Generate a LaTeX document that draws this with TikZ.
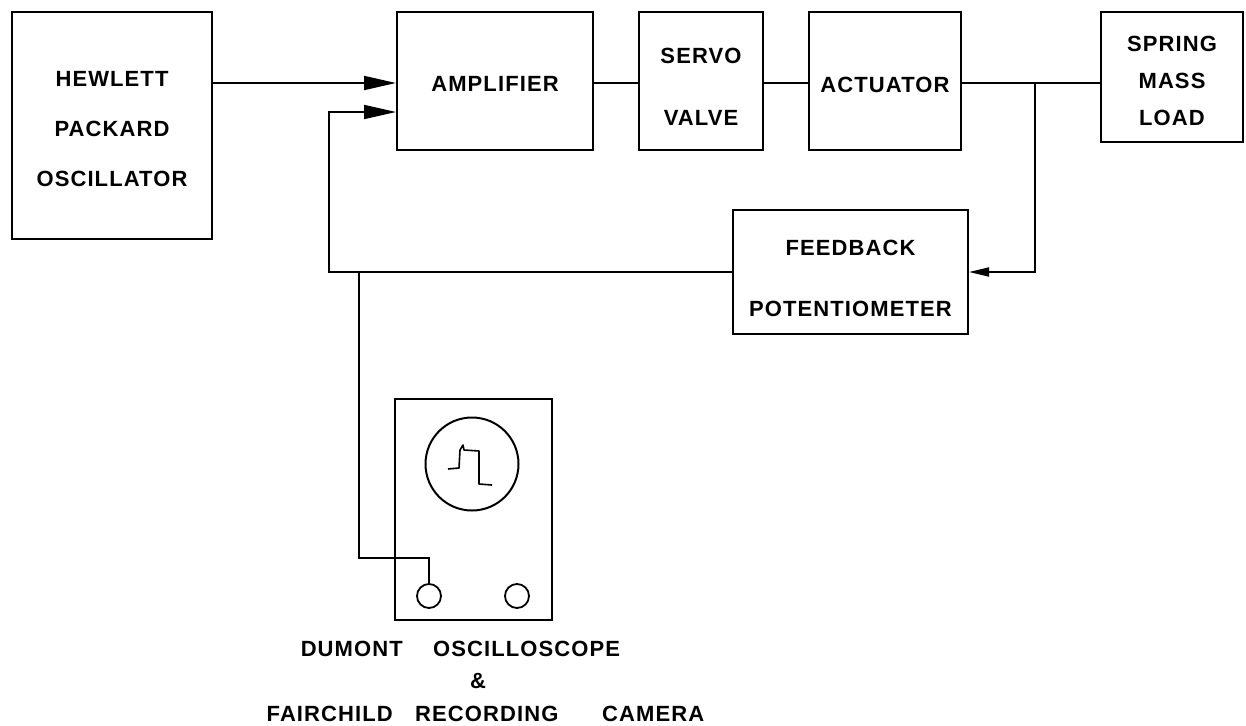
\documentclass[tikz,border=0pt]{standalone}
\usepackage{fontspec}
\newfontfamily\labfam[LetterSpace=5]{Liberation Sans}
\newcommand\labfont[1]{\labfam\bfseries\fontsize{22}{#1}\selectfont}
\usetikzlibrary{arrows.meta}
\begin{document}
\begin{tikzpicture}[x=1pt,y=-1pt,
  box/.style={draw, line width=2pt, inner sep=0pt, align=center, font=\labfont{50}},
  wire/.style={line width=1.8pt},
  bigarr/.style={wire, -{Triangle[length=32pt,width=14pt]}},
  smallarr/.style={wire, -{Triangle[length=20pt,width=9pt]}},
  knob/.style={circle, draw, line width=1.8pt, minimum size=24pt, inner sep=0pt},
  lbl/.style={font=\labfont{26}, inner sep=0pt}]
\useasboundingbox (0,0) rectangle (1246,725);

% main blocks
\node[box, minimum width=200pt, minimum height=227pt, text height=121.8pt] (hp) at (112,125.5) {HEWLETT\\PACKARD\\OSCILLATOR};
\node[box, minimum width=196pt, minimum height=138pt, text height=21.8pt] (amp) at (495,81) {AMPLIFIER};
\node[box, minimum width=124pt, minimum height=138pt, text height=89.8pt, font=\labfont{62}] (servo) at (701,81) {SERVO\\VALVE};
\node[box, minimum width=152pt, minimum height=138pt, text height=22.8pt] (act) at (885,81) {ACTUATOR};
\node[box, minimum width=142pt, minimum height=130pt, text height=97.8pt, font=\labfont{37}] (spring) at (1172,77) {SPRING\\MASS\\LOAD};
\node[box, minimum width=235pt, minimum height=124pt, text height=88.8pt, font=\labfont{61}] (fb) at (850.5,272) {FEEDBACK\\POTENTIOMETER};

% oscilloscope
\node[draw, line width=2pt, minimum width=157pt, minimum height=221pt, inner sep=0pt] (scope) at (473.5,509.5) {};
\node[circle, draw, line width=2pt, minimum size=93pt, inner sep=0pt] (screen) at (472,464) {};
\node[knob] (k1) at (429,596) {};
\node[knob] (k2) at (517,596) {};
\draw[line width=1.6pt, line join=round]
  (448,469) -- (459,468) -- (460,450) -- (463,445) -- (464,450) -- (479,451)
  -- (479,470) -- (479,484) -- (492,485);

% connectors
\coordinate (lineY) at (0,83);
\draw[bigarr] (hp.east |- lineY) -- (amp.west |- lineY);
\draw[wire] (amp.east |- lineY) -- (servo.west |- lineY);
\draw[wire] (servo.east |- lineY) -- (act.west |- lineY);
\draw[wire] (act.east |- lineY) -- (spring.west |- lineY);
\coordinate (br) at (1035,83);
\draw[smallarr] (br) |- (fb.east);
\coordinate (fbl) at (329,112);
\draw[bigarr] (fb.west) -| (fbl) -- (amp.west |- fbl);
\coordinate (jn) at (359,272);
\coordinate (bend) at (429,558);
\draw[wire] (jn) |- (bend) -- (k1.north);

% caption
\node[lbl, anchor=base east] (dumont) at (403,656) {DUMONT};
\node[lbl, anchor=base west] (osc) at (433,656) {OSCILLOSCOPE};
\node[lbl, anchor=base] (amps) at (478,688) {\&};
\node[lbl, anchor=base east] (fair) at (393,721) {FAIRCHILD};
\node[lbl, anchor=base west] (rec) at (415,721) {RECORDING};
\node[lbl, anchor=base west] (cam) at (602,721) {CAMERA};
\end{tikzpicture}
\end{document}
